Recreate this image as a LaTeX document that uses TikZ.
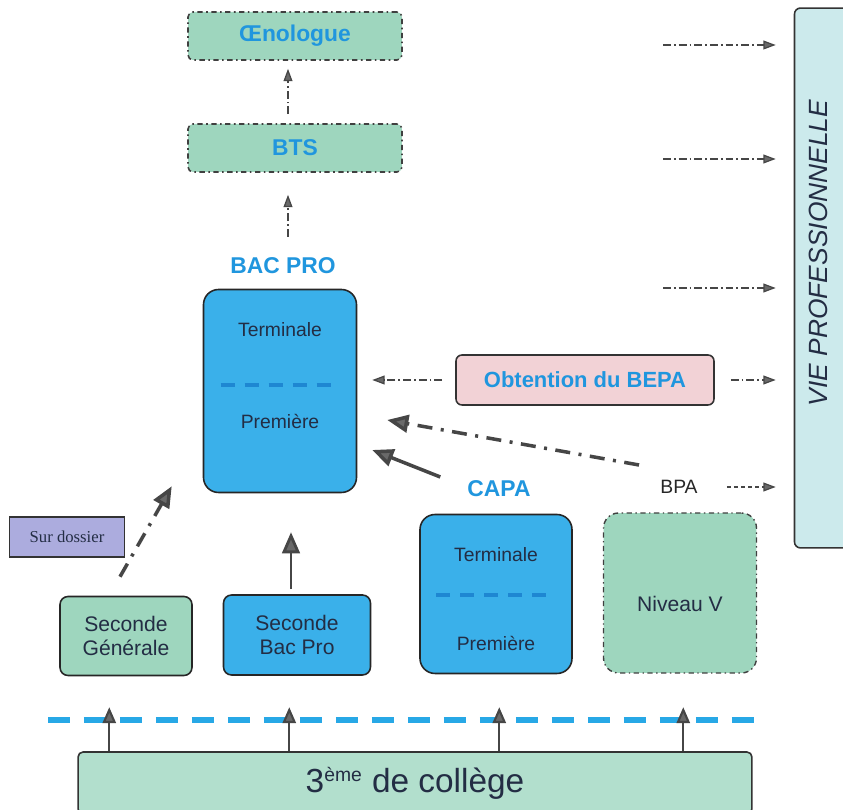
\documentclass[tikz,border=0pt]{standalone}
\usepackage{fontspec}
\setmainfont{Liberation Sans}
\newfontfamily\dossierfont{Liberation Serif}
\usetikzlibrary{arrows.meta,calc}

\definecolor{vertfond}{RGB}{158,214,190}
\definecolor{vertclair}{RGB}{178,223,205}
\definecolor{bleufond}{RGB}{58,176,234}
\definecolor{bleutitre}{RGB}{32,150,222}
\definecolor{bleutrait}{RGB}{30,135,210}
\definecolor{bleuligne}{RGB}{40,168,230}
\definecolor{rosefond}{RGB}{242,210,214}
\definecolor{mauvefond}{RGB}{172,172,222}
\definecolor{viefond}{RGB}{204,234,236}
\definecolor{textefonce}{RGB}{35,45,68}
\definecolor{grisfleche}{RGB}{70,70,70}
\definecolor{grispointe}{RGB}{105,105,105}

\tikzstyle{diplome} = [rectangle, rounded corners=0.1cm, minimum width=4.28cm, minimum height=0.96cm, draw=black!75, line width=0.9pt, dash dot, fill=vertfond, text=bleutitre, font=\fontsize{13}{15}\selectfont\bfseries]
\tikzstyle{classe} = [rectangle, rounded corners=0.3cm, draw=black!85, line width=0.9pt, fill=bleufond, minimum width=3.06cm]
\tikzstyle{seconde} = [rectangle, rounded corners=0.16cm, draw=black!85, line width=0.9pt, minimum height=1.58cm, align=center, text=textefonce, font=\fontsize{12}{13.5}\selectfont]
\tikzstyle{titre} = [text=bleutitre, font=\fontsize{13}{15}\selectfont\bfseries]
\tikzstyle{niveau} = [text=textefonce, font=\fontsize{11}{13}\selectfont]
\tikzstyle{separation} = [draw=bleutrait, line width=1.8pt, dash pattern=on 0.28cm off 0.2cm]
\tikzstyle{fleche} = [draw=grisfleche, line width=0.7pt, dash pattern=on 4.5pt off 1.7pt on 1pt off 1.7pt, -{Triangle[length=7pt,width=5pt,fill=grispointe]}]
\tikzstyle{flechecourte} = [draw=grisfleche, line width=0.7pt, dash pattern=on 2.5pt off 1.5pt, -{Triangle[length=7pt,width=5pt,fill=grispointe]}]
\tikzstyle{grossefleche} = [draw=grisfleche, line width=2pt, -{Triangle[length=12pt,width=10pt,fill=grispointe]}]
\tikzstyle{grossetiret} = [grossefleche, dash pattern=on 0.3cm off 0.17cm on 0.06cm off 0.17cm]
\tikzstyle{montee} = [draw=grisfleche, line width=1.2pt, -{Triangle[length=9pt,width=7.5pt,fill=grispointe]}]

\begin{document}
\begin{tikzpicture}[x=0.02cm, y=-0.02cm]

\fill[white] (0,0) rectangle (843,810);
\useasboundingbox (0,0) rectangle (843,810);

% filiere haute
\node (oeno) [diplome] at (295,36) {Œnologue};
\node (bts) [diplome] at (295,148) {BTS};
\node (baclabel) [titre] at (283,266) {BAC PRO};

\node (bac) [classe, minimum height=4.06cm] at (280,391) {};
\node (bacterm) [niveau] at ($(bac.center)+(0,-61)$) {Terminale};
\node (bacprem) [niveau] at ($(bac.center)+(0,30)$) {Première};
\draw [separation] ($(bac.west)+(18,-6)$) -- ($(bac.east)+(-17,-6)$);

\node (bepa) [rectangle, rounded corners=0.12cm, draw=black!80, line width=0.9pt, fill=rosefond, minimum width=5.16cm, minimum height=1cm, text=bleutitre, font=\fontsize{12.5}{14}\selectfont\bfseries] at (585,380) {Obtention du BEPA};

% vie professionnelle
\node (vie) [rectangle, rounded corners=0.12cm, draw=black!80, line width=0.9pt, fill=viefond, minimum width=1.1cm, minimum height=10.8cm] at (822,278) {};
\node (vietexte) [rotate=90, text=textefonce, font=\fontsize{15}{17}\selectfont\itshape] at (818,253) {VIE PROFESSIONNELLE};

% CAPA et BPA
\node (capalabel) [titre] at (499,489) {CAPA};
\node (capa) [classe, minimum width=3.04cm, minimum height=3.18cm] at (496,594) {};
\node (capaterm) [niveau] at ($(capa.center)+(0,-39)$) {Terminale};
\node (capaprem) [niveau] at ($(capa.center)+(0,49)$) {Première};
\draw [separation] ($(capa.west)+(17,1)$) -- ($(capa.east)+(-17,1)$);

\node (bpa) [text=black!85, inner sep=0pt, font=\fontsize{11}{13}\selectfont] at (679,487) {BPA};
\node (niveauv) [rectangle, rounded corners=0.3cm, draw=black!75, line width=0.8pt, dash dot, fill=vertfond, minimum width=3.06cm, minimum height=3.2cm] at (680,593) {};
\node (niveauvtexte) [text=textefonce, font=\fontsize{12}{14}\selectfont] at ($(niveauv.center)+(0,11)$) {Niveau V};

% secondes
\node (dossier) [rectangle, draw=black!80, line width=0.9pt, fill=mauvefond, minimum width=2.3cm, minimum height=0.8cm, text=textefonce, font=\dossierfont\fontsize{9.5}{11}\selectfont] at (67,537) {Sur dossier};
\node (secgen) [seconde, fill=vertfond, minimum width=2.64cm] at (126,636) {Seconde\\Générale};
\node (secbac) [seconde, fill=bleufond, minimum width=2.94cm, minimum height=1.6cm] at (297,635) {Seconde\\Bac Pro};

% college
\node (college) [rectangle, rounded corners=0.1cm, draw=black!80, line width=0.9pt, fill=vertclair, minimum width=13.48cm, minimum height=1.24cm, text=textefonce, font=\fontsize{19}{22}\selectfont] at (415,783) {3\textsuperscript{\fontsize{11}{12}\selectfont ème} de collège};
\draw [draw=bleuligne, line width=3.4pt, dash pattern=on 0.44cm off 0.28cm] (48,720) -- (765,720);

% fleches
\draw [fleche, shorten <=0.18cm, shorten >=0.16cm] ($(bts.north)+(-7,0)$) -- ($(oeno.south)+(-7,0)$);
\draw [fleche, shorten <=0.3cm, shorten >=0.44cm] ($(baclabel.north)+(5,0)$) -- ($(bts.south)+(-7,0)$);
\draw [fleche, shorten <=0.26cm, shorten >=0.3cm] (bepa.west) -- (bepa.west -| bac.east);
\draw [fleche, shorten <=0.32cm, shorten >=0.36cm] (bepa.east) -- (bepa.east -| vie.west);
\foreach \y in {45,159,288} {
  \coordinate (depart) at (663,\y);
  \draw [fleche, shorten >=0.36cm] (depart) -- (depart -| vie.west);
}
\draw [flechecourte, shorten <=0.58cm, shorten >=0.36cm] (bpa.east) -- (bpa.east -| vie.west);
\draw [grossetiret] ($(bpa.north west)+(-21,-15)$) -- ($(bac.east)+(30,29)$);
\draw [grossefleche] ($(capalabel.west)+(-21,-12)$) -- ($(bac.east)+(15,59)$);
\draw [grossetiret] ($(secgen.north)+(-6,-19)$) -- ($(bac.south west)+(-31,-7)$);
\draw [grossefleche, line width=1.6pt] ($(secbac.north)+(-6,-5)$) -- ($(secbac.north)+(-6,-62)$);
\foreach \d in {32,212,422,606}
  \draw [montee] ($(college.north west)+(\d,0)$) -- +(0,-44);

\end{tikzpicture}
\end{document}
